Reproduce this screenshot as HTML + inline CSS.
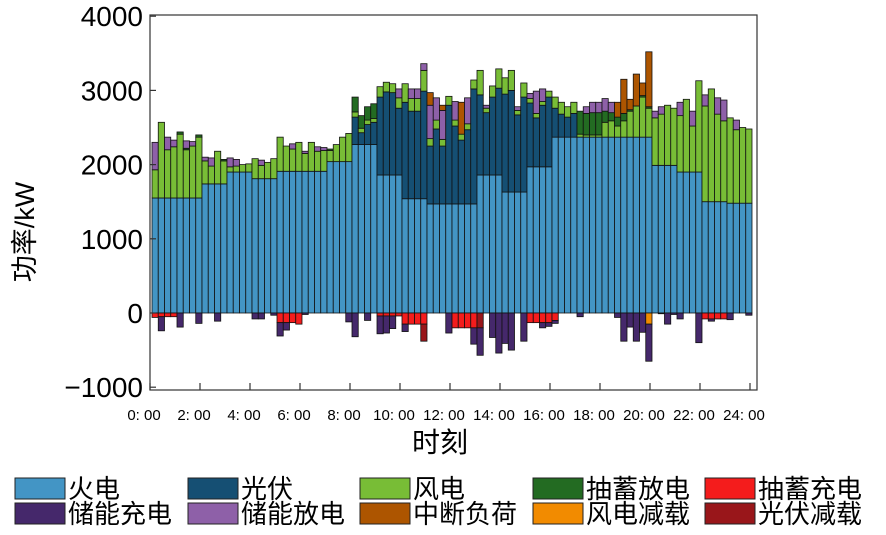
<!DOCTYPE html>
<html><head><meta charset="utf-8"><style>
body{margin:0;background:#fff}
svg{display:block;font-family:"Liberation Sans","Noto Sans CJK SC",sans-serif}
</style></head><body>
<svg id="chart" width="886" height="535" viewBox="0 0 886 535">
<g id="bars"></g>
<g id="axes"></g>
<g id="legend"></g>
</svg>
<script>
const thermal=[1550,1550,1550,1550,1550,1550,1550,1550,1740,1740,1740,1740,1900,1900,1900,1900,1810,1810,1810,1810,1910,1910,1910,1910,1910,1910,1910,1910,2040,2040,2040,2040,2270,2270,2270,2270,1860,1860,1860,1860,1540,1540,1540,1540,1470,1470,1470,1470,1470,1470,1470,1470,1860,1860,1860,1860,1630,1630,1630,1630,1970,1970,1970,1970,2370,2370,2370,2370,2370,2370,2370,2370,2370,2370,2370,2370,2370,2370,2370,2370,1990,1990,1990,1990,1900,1900,1900,1900,1500,1500,1500,1500,1480,1480,1480,1480];
const pv=[0,0,0,0,0,0,0,0,0,0,0,0,0,0,0,0,0,0,0,0,0,0,0,0,0,0,0,0,0,0,0,0,370,160,270,300,1050,1120,1110,900,1300,1180,1180,1450,780,1010,780,1330,1050,860,1000,1550,1080,840,1050,1170,1320,1370,1040,1280,860,660,830,940,390,310,270,320,0,0,0,0,0,0,0,0,0,0,0,0,0,0,0,0,0,0,0,0,0,0,0,0,0,0,0,0];
const wind=[380,1020,650,690,860,650,700,820,310,240,440,310,70,80,100,110,270,180,220,270,460,340,300,390,240,390,270,280,150,230,330,380,70,60,60,50,140,130,120,140,250,170,170,280,100,120,90,120,80,80,80,120,330,60,150,260,220,270,60,190,60,60,50,80,150,160,140,150,40,30,30,30,200,220,150,220,350,420,540,390,640,690,810,770,760,980,620,1230,1290,1520,1180,1090,1150,990,1020,1000];
const pumpDis=[0,0,0,0,30,20,0,30,0,0,0,20,0,0,0,0,0,0,0,0,0,0,0,0,0,0,0,0,20,0,0,0,200,170,180,200,0,0,0,0,0,0,0,0,0,0,0,0,0,0,0,0,0,0,0,0,0,0,0,0,0,0,0,0,0,0,0,0,310,290,300,300,150,110,120,100,20,0,20,20,0,0,0,0,0,0,0,0,0,0,0,0,0,0,0,0];
const essDis=[370,0,170,90,0,100,60,0,50,110,0,0,120,90,0,0,0,70,0,0,0,0,70,0,30,0,60,40,0,0,0,0,0,0,0,0,0,0,0,120,0,130,130,90,450,300,390,0,250,0,350,0,0,40,0,0,0,0,50,0,70,300,170,0,0,0,0,0,0,90,140,140,170,140,0,0,0,0,0,0,90,100,0,0,180,0,200,0,150,0,220,280,0,130,0,0];
const interrupt=[0,0,0,0,0,0,0,0,0,0,0,0,0,0,0,0,0,0,0,0,0,0,0,0,0,0,0,0,0,0,0,0,0,0,0,0,0,0,0,0,0,0,0,0,170,0,70,0,0,430,0,0,0,0,0,0,0,0,0,0,0,0,0,0,0,0,0,0,0,0,0,0,0,0,200,460,140,430,170,740,0,0,0,0,0,0,0,0,0,0,0,0,0,0,0,0];
const pumpChg=[60,50,50,50,0,0,0,0,0,0,0,0,0,0,0,0,0,0,0,0,130,130,130,150,0,0,0,0,0,0,0,0,0,0,0,0,40,40,40,40,150,150,150,150,0,0,0,0,200,200,200,200,0,0,0,0,0,0,0,0,130,130,130,130,100,0,0,0,0,0,0,0,0,0,0,0,0,0,0,0,0,10,0,0,0,0,0,0,80,80,80,80,0,0,0,0];
const pvCurt=[0,0,0,0,0,0,0,0,0,0,0,0,0,0,0,0,0,0,0,0,0,0,0,0,0,0,0,0,0,0,0,0,0,0,0,0,0,0,0,0,0,0,0,230,0,0,0,0,0,0,0,0,200,0,0,0,0,0,0,0,0,0,0,0,0,0,0,0,0,0,0,0,0,0,0,0,0,0,0,0,0,0,0,0,0,0,0,0,0,0,0,0,0,0,0,0];
const windCurt=[0,0,0,0,0,0,0,0,0,0,0,0,0,0,0,0,0,0,0,0,0,0,0,0,0,0,0,0,0,0,0,0,0,0,0,0,0,0,0,0,0,0,0,0,0,0,0,0,0,0,0,0,0,0,0,0,0,0,0,0,0,0,0,0,0,0,0,0,0,0,0,0,0,0,0,0,0,0,0,150,0,0,0,0,0,0,0,0,0,0,0,0,0,0,0,0];
const essChg=[0,190,0,0,190,0,0,140,0,0,110,0,0,0,0,0,80,80,0,30,180,100,0,0,20,0,0,0,0,0,0,120,320,0,100,0,240,230,170,0,100,0,0,0,0,0,0,270,0,0,0,220,370,0,330,540,410,500,0,380,0,0,70,50,40,0,0,0,50,0,0,0,0,0,60,380,190,380,260,500,0,0,150,20,80,0,0,400,0,30,0,0,90,0,0,30];
const yTicks=[4000,3000,2000,1000,0,-1000];
const yTickLabels=["4000","3000","2000","1000","0","\u22121000"];
const xTickLabels=["0: 00","2: 00","4: 00","6: 00","8: 00","10: 00","12: 00","14: 00","16: 00","18: 00","20: 00","22: 00","24: 00"];

const NS="http://www.w3.org/2000/svg";
const X0=150,X1=757,Y0=313,PXK=0.0742,BW=6.25;
function yS(v){return Y0-v*PXK;}
function xS(i){return 152+i*BW;}
function mk(tag,attrs,parent){const e=document.createElementNS(NS,tag);for(const k in attrs)e.setAttribute(k,attrs[k]);parent.appendChild(e);return e;}
const bars=document.getElementById('bars');
const pos=[[thermal,'#4395c5','thermal'],[pv,'#154f73','pv'],[wind,'#78bd36','wind'],[pumpDis,'#236b22','pumped-discharge'],[essDis,'#8e60a8','storage-discharge'],[interrupt,'#ad5500','interruptible-load']];
const neg=[[pumpChg,'#f41c1c','pumped-charge'],[pvCurt,'#99161a','pv-curtailment'],[windCurt,'#f28b00','wind-curtailment'],[essChg,'#45286b','storage-charge']];
for(let i=0;i<96;i++){
  let acc=0;
  for(const [arr,col,nm] of pos){const v=arr[i];if(!v)continue;
    const r=mk('rect',{x:xS(i),y:yS(acc+v),width:BW,height:v*PXK,fill:col,stroke:'#111','stroke-width':0.8},bars);
    
    
    acc+=v;}
  let nacc=0;
  for(const [arr,col,nm] of neg){const v=arr[i];if(!v)continue;
    const r=mk('rect',{x:xS(i),y:yS(-nacc),width:BW,height:v*PXK,fill:col,stroke:'#111','stroke-width':0.8},bars);
    
    
    nacc+=v;}
}
const ax=document.getElementById('axes');
const fr=mk('rect',{x:X0,y:15,width:X1-X0,height:375,fill:'none',stroke:'#333','stroke-width':1.2},ax);


yTicks.forEach((t,k)=>{const y=yS(t);
  mk('line',{x1:X0,x2:X0+6,y1:y,y2:y,stroke:'#333','stroke-width':1.2},ax);
  const tx=mk('text',{x:143,y:y+10,'text-anchor':'end','font-size':28,fill:'#000'},ax);tx.textContent=yTickLabels[k];
  
  
});
xTickLabels.forEach((t,k)=>{const x=X0+k*50;
  mk('line',{x1:x,x2:x,y1:390,y2:383,stroke:'#333','stroke-width':1.2},ax);
  const tx=mk('text',{x:x-6,y:420,'text-anchor':'middle','font-size':15,fill:'#000'},ax);tx.textContent=t;
  
  
});
const xt=mk('text',{x:440,y:452,'text-anchor':'middle','font-size':28,fill:'#000'},ax);xt.textContent='时刻';


const yt=mk('text',{x:0,y:0,'text-anchor':'middle','font-size':27,fill:'#000',transform:'translate(34,232) rotate(-90)'},ax);yt.textContent='功率/kW';


const lg=document.getElementById('legend');
const legendItems=[['火电','#4395c5'],['光伏','#154f73'],['风电','#78bd36'],['抽蓄放电','#236b22'],['抽蓄充电','#f41c1c'],['储能充电','#45286b'],['储能放电','#8e60a8'],['中断负荷','#ad5500'],['风电减载','#f28b00'],['光伏减载','#99161a']];
const lx=[15,188,360,533,705];
legendItems.forEach((it,k)=>{const col=k%5,row=Math.floor(k/5);const x=lx[col],y=478+row*25;
  const g=mk('g',{},lg);
  
  
  mk('rect',{x:x,y:y,width:50,height:21,fill:it[1],stroke:'#222','stroke-width':1},g);
  const t=mk('text',{x:x+53,y:y+20,'font-size':26,fill:'#000'},g);t.textContent=it[0];
});
</script>
</body></html>
